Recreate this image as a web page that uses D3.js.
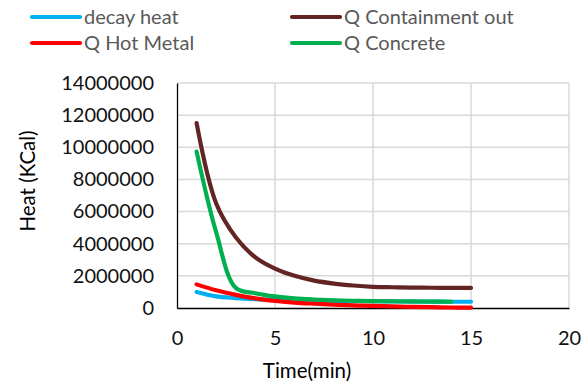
<!DOCTYPE html>
<html lang="en">
<head>
    <meta charset="UTF-8"/>
    <title>Heat vs time</title>
    <script src="https://cdn.jsdelivr.net/npm/d3@7"></script>
    <style>
        html, body {
            margin: 0;
            background: white;
        }
        text {
            font-family: Lato, "Open Sans", sans-serif;
        }
    </style>
</head>
<body>
<div id="chart"></div>
<script>
    // minutes
    const time = [1, 2, 3, 4, 5, 6, 7, 8, 9, 10, 11, 12, 13, 14, 15]

    // series values in KCal
    const decayHeat = [1000000, 720000, 620000, 550000, 510000, 480000, 460000, 440000, 430000, 420000, 410000, 400000, 400000, 390000, 390000]
    const qContainmentOut = [11500000, 6500000, 4400000, 3150000, 2450000, 2000000, 1700000, 1520000, 1400000, 1320000, 1290000, 1270000, 1260000, 1250000, 1250000]
    const qHotMetal = [1470000, 1100000, 820000, 600000, 440000, 340000, 270000, 210000, 160000, 130000, 100000, 70000, 50000, 30000, 20000]
    const qConcrete = [9730000, 4700000, 1250000, 920000, 720000, 600000, 530000, 480000, 450000, 430000, 420000, 410000, 400000, 390000]

    const seriesNames = ['decay heat', 'Q Containment out', 'Q Hot Metal', 'Q Concrete']
    const seriesColors = ['#00b0f0', '#632523', '#ff0000', '#00b050']
    const seriesValues = [decayHeat, qContainmentOut, qHotMetal, qConcrete]

    const xTicks = [0, 5, 10, 15, 20]
    const yTicks = [0, 2000000, 4000000, 6000000, 8000000, 10000000, 12000000, 14000000]

    const width = 588, height = 385
    const margin = {left: 177, right: 19, top: 83, bottom: 77}

    const svg = d3.select('#chart')
        .append('svg')
        .attr('width', width)
        .attr('height', height)

    const x = d3.scaleLinear().domain([0, 20]).range([margin.left, width - margin.right])
    const y = d3.scaleLinear().domain([0, 14000000]).range([height - margin.bottom, margin.top])

    // grid
    svg.append('g')
        .selectAll('line.h')
        .data(yTicks.slice(1))
        .join('line')
        .attr('x1', x(0)).attr('x2', x(20))
        .attr('y1', d => y(d)).attr('y2', d => y(d))
        .attr('stroke', '#d9d9d9').attr('stroke-width', 1.5)

    svg.append('g')
        .selectAll('line.v')
        .data(xTicks.slice(1))
        .join('line')
        .attr('x1', d => x(d)).attr('x2', d => x(d))
        .attr('y1', y(0)).attr('y2', y(14000000))
        .attr('stroke', '#d9d9d9').attr('stroke-width', 1.5)

    // axes
    const yAxis = svg.append('g')
        .attr('transform', `translate(${x(0)},0)`)
        .call(d3.axisLeft(y).tickValues(yTicks).tickFormat(d3.format('d')).tickSize(0).tickPadding(23))
    yAxis.select('.domain').attr('stroke', '#000').attr('stroke-width', 1.3)
    yAxis.selectAll('text').attr('font-size', 20).attr('fill', '#111')
        .attr('font-family', 'Lato, sans-serif')

    const xAxis = svg.append('g')
        .attr('transform', `translate(0,${y(0)})`)
        .call(d3.axisBottom(x).tickValues(xTicks).tickSize(0).tickPadding(23))
    xAxis.select('.domain').attr('stroke', '#000').attr('stroke-width', 1.3)
    xAxis.selectAll('text').attr('font-size', 20).attr('fill', '#111')
        .attr('font-family', 'Lato, sans-serif')

    // axis titles
    svg.append('text')
        .attr('x', 307).attr('y', 378)
        .attr('text-anchor', 'middle')
        .attr('font-size', 20.5)
        .text('Time(min)')

    svg.append('text')
        .attr('transform', 'translate(35,181) rotate(-90)')
        .attr('text-anchor', 'middle')
        .attr('font-size', 20.5)
        .text('Heat (KCal)')

    // lines, smoothed like the spreadsheet does
    const line = d3.line()
        .x(d => x(d[0]))
        .y(d => y(d[1]))
        .curve(d3.curveCatmullRom.alpha(0.5))

    seriesValues.forEach((values, i) => {
        svg.append('path')
            .datum(values.map((v, j) => [time[j], v]))
            .attr('d', line)
            .attr('fill', 'none')
            .attr('stroke', seriesColors[i])
            .attr('stroke-width', 4.2)
            .attr('stroke-linecap', 'round')
            .attr('stroke-linejoin', 'round')
    })

    // legend, two columns filled row by row
    const legendX = [32, 292]
    const legendY = [17, 43]
    const legend = svg.append('g')
        .selectAll('g')
        .data(seriesNames)
        .join('g')
        .attr('transform', (d, i) => `translate(${legendX[i % 2]},${legendY[Math.floor(i / 2)]})`)

    legend.append('line')
        .attr('x1', 0).attr('x2', 48)
        .attr('stroke', (d, i) => seriesColors[i])
        .attr('stroke-width', 4.2)
        .attr('stroke-linecap', 'round')

    legend.append('text')
        .attr('x', 52).attr('y', 7)
        .attr('font-size', 20)
        .attr('fill', '#595959')
        .text(d => d)
</script>
</body>
</html>
